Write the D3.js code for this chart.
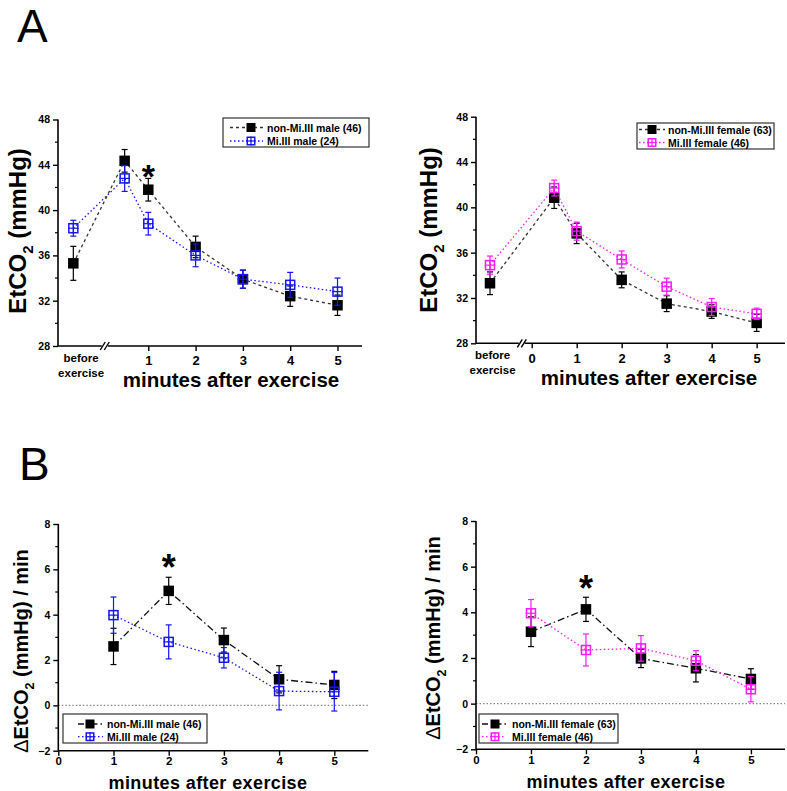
<!DOCTYPE html>
<html><head><meta charset="utf-8">
<script src="https://cdn.jsdelivr.net/npm/d3@7"></script>
<style>body{margin:0;background:#fff}svg{display:block}text{font-family:"Liberation Sans",Arial,sans-serif}</style>
</head><body>
<svg id="c" width="787" height="791"></svg>
<script>
// ---------- DATA ----------
const topX = ["before", 0.5, 1, 2, 3, 4, 5];
const topXTicks = [1, 2, 3, 4, 5];
const topXTicksRight = [0, 1, 2, 3, 4, 5];
const topYTicks = [28, 32, 36, 40, 44, 48];

const maleNonMiEt    = [35.3, 44.35, 41.8, 36.75, 33.9, 32.4, 31.6];
const maleNonMiEtErr = [1.5, 1.0, 1.0, 0.95, 0.8, 0.9, 0.9];
const maleMiEt       = [38.4, 42.8, 38.8, 36.0, 33.9, 33.4, 32.8];
const maleMiEtErr    = [0.7, 1.15, 1.0, 1.0, 0.8, 1.1, 1.2];

const femNonMiEt     = [33.3, 40.85, 37.7, 33.6, 31.5, 30.8, 29.8];
const femNonMiEtErr  = [1.0, 0.95, 0.9, 0.7, 0.7, 0.6, 0.75];
const femMiEt        = [34.9, 41.7, 37.9, 35.4, 33.0, 31.2, 30.6];
const femMiEtErr     = [0.8, 0.7, 0.8, 0.75, 0.75, 0.75, 0.5];

const botX = [1, 2, 3, 4, 5];
const botXTicks = [0, 1, 2, 3, 4, 5];
const botYTicks = [-2, 0, 2, 4, 6, 8];

const maleNonMiD     = [2.6, 5.05, 2.88, 1.15, 0.9];
const maleNonMiDErr  = [0.8, 0.6, 0.53, 0.6, 0.6];
const maleMiD        = [3.98, 2.8, 2.1, 0.63, 0.6];
const maleMiDErr     = [0.8, 0.75, 0.45, 0.83, 0.85];

const femNonMiD      = [3.15, 4.13, 1.98, 1.55, 1.08];
const femNonMiDErr   = [0.65, 0.53, 0.4, 0.6, 0.45];
const femMiD         = [3.96, 2.35, 2.42, 1.88, 0.63];
const femMiDErr      = [0.6, 0.7, 0.56, 0.44, 0.55];

const legMale = ["non-Mi.III male (46)", "Mi.III male (24)"];
const legFemale = ["non-Mi.III female (63)", "Mi.III female (46)"];
const xTitle = "minutes after exercise";
const beforeLabel = ["before", "exercise"];

// ---------- DRAW ----------
const svg = d3.select("#c");
const BLUE = "#1515f5", MAG = "#ff1aff", BLK = "#000";
const FONT = '"Liberation Sans",Arial,sans-serif';

svg.append("text").attr("x", 17).attr("y", 42).attr("font-size", 46).text("A");
svg.append("text").attr("x", 19).attr("y", 480).attr("font-size", 46).text("B");

function panel(cfg) {
  const g = svg.append("g");
  const x = d3.scaleLinear().domain(cfg.xDom).range(cfg.xRange);
  const y = d3.scaleLinear().domain(cfg.yDom).range(cfg.yRange);
  const x0 = cfg.xRange[0], x1 = cfg.xRange[1];
  const yb = y(cfg.yDom[0]);
  const xpos = v => v === "before" ? x(cfg.beforeX) : x(v);

  if (cfg.zeroLine) {
    g.append("line").attr("x1", x0).attr("x2", x1).attr("y1", y(0)).attr("y2", y(0))
      .attr("stroke", "#888").attr("stroke-width", 1.2).attr("stroke-dasharray", "1.5,2");
  }

  const yAxis = d3.axisLeft(y).tickValues(cfg.yTicks).tickSize(5).tickPadding(3).tickFormat(d3.format("d"));
  const ya = g.append("g").attr("transform", `translate(${x0},0)`).call(yAxis);
  const xAxis = d3.axisBottom(x).tickValues(cfg.xTicks).tickSize(5).tickPadding(cfg.xTickPad).tickFormat(d3.format("d"));
  const xa = g.append("g").attr("transform", `translate(0,${yb})`).call(xAxis);
  [ya, xa].forEach(a => {
    a.select(".domain").attr("stroke", "#000").attr("stroke-width", 1.6);
    a.selectAll(".tick line").attr("stroke", "#000").attr("stroke-width", 1.4);
  });
  ya.selectAll(".domain").attr("d", `M-0,${cfg.yRange[1]}V${cfg.yRange[0]}`);
  xa.selectAll(".domain").attr("d", `M${x0},0H${x1}`);
  ya.selectAll(".tick text").attr("font-family", FONT).attr("font-weight", "bold").attr("font-size", 10.5).attr("fill", "#000");
  xa.selectAll(".tick text").attr("font-family", FONT).attr("font-weight", "bold").attr("font-size", cfg.xTickSize).attr("fill", "#000");
  const minors = [];
  for (let i = 0; i < cfg.yTicks.length - 1; i++) minors.push((cfg.yTicks[i] + cfg.yTicks[i + 1]) / 2);
  g.selectAll(".minor").data(minors).enter().append("line")
    .attr("x1", x0 - 3).attr("x2", x0).attr("y1", d => y(d)).attr("y2", d => y(d))
    .attr("stroke", "#000").attr("stroke-width", 1.2);

  if (cfg.breakX !== undefined) {
    const bx = x(cfg.breakX);
    g.append("rect").attr("x", bx - 3).attr("y", yb - 2).attr("width", 6).attr("height", 4).attr("fill", "#fff");
    [-2, 2].forEach(o => g.append("line")
      .attr("x1", bx + o - 2.5).attr("y1", yb + 4).attr("x2", bx + o + 2.5).attr("y2", yb - 4)
      .attr("stroke", "#000").attr("stroke-width", 1.4));
    const bl = g.append("text").attr("text-anchor", "middle").attr("font-weight", "bold").attr("font-size", 11.5);
    beforeLabel.forEach((t, i) => bl.append("tspan").attr("x", x(cfg.beforeLabelX)).attr("y", yb + 16 + i * 15).text(t));
  }

  g.append("text").attr("x", cfg.xTitle[0]).attr("y", cfg.xTitle[1]).attr("text-anchor", "middle")
    .attr("font-weight", "bold").attr("font-size", cfg.xTitleSize).attr("letter-spacing", cfg.xTitleLS || 0).text(xTitle);
  const yt = g.append("text").attr("transform", `translate(${cfg.yTitle[0]},${cfg.yTitle[1]}) rotate(-90)`)
    .attr("text-anchor", "middle").attr("font-weight", "bold").attr("font-size", cfg.yTitleSize);
  if (cfg.delta) yt.append("tspan").attr("font-weight", "normal").text("Δ");
  yt.append("tspan").text("EtCO");
  yt.append("tspan").attr("font-size", cfg.yTitleSize * 0.62).attr("dy", cfg.yTitleSize * 0.28).text("2");
  yt.append("tspan").attr("dy", -cfg.yTitleSize * 0.28).text(cfg.delta ? " (mmHg) / min" : " (mmHg)");

  cfg.series.forEach(s => {
    const pts = cfg.xs.map((v, i) => ({ x: xpos(v), v: s.vals[i], e: s.errs[i] }));
    const line = d3.line().x(d => d.x).y(d => y(d.v));
    g.append("path").attr("d", line(pts)).attr("fill", "none").attr("stroke", s.lineColor)
      .attr("stroke-width", 1.3).attr("stroke-dasharray", s.dash);
    const eb = g.append("g").attr("stroke", s.color).attr("stroke-width", 1.2);
    pts.forEach(p => {
      eb.append("line").attr("x1", p.x).attr("x2", p.x).attr("y1", y(p.v + p.e)).attr("y2", y(p.v - p.e));
      [p.v + p.e, p.v - p.e].forEach(w => eb.append("line").attr("x1", p.x - 3).attr("x2", p.x + 3).attr("y1", y(w)).attr("y2", y(w)));
    });
    pts.forEach(p => marker(g, p.x, y(p.v), s));
  });

  if (cfg.star) {
    g.append("text").attr("x", x(cfg.star[0])).attr("y", cfg.star[1]).attr("text-anchor", "middle")
      .attr("font-weight", "bold").attr("font-size", cfg.starSize).text("*");
  }

  const L = cfg.legend;
  g.append("rect").attr("x", L.x).attr("y", L.y).attr("width", L.w).attr("height", L.h)
    .attr("fill", "#fff").attr("stroke", "#333").attr("stroke-width", 1.2);
  cfg.series.forEach((s, i) => {
    const ry = L.rows[i];
    g.append("line").attr("x1", L.lx[0]).attr("x2", L.lx[1]).attr("y1", ry).attr("y2", ry)
      .attr("stroke", s.lineColor).attr("stroke-width", 1.3).attr("stroke-dasharray", s.legDash || s.dash);
    marker(g, L.mx, ry, s, 9);
    g.append("text").attr("x", L.tx).attr("y", ry + 4).attr("font-weight", "bold").attr("font-size", 10.5).text(cfg.labels[i]);
  });
}

function marker(g, cx, cy, s, size) {
  const h = (size || 10.5) / 2;
  if (s.filled) {
    g.append("rect").attr("x", cx - h).attr("y", cy - h).attr("width", 2 * h).attr("height", 2 * h).attr("fill", "#000");
  } else {
    g.append("rect").attr("x", cx - h + 0.75).attr("y", cy - h + 0.75).attr("width", 2 * h - 1.5).attr("height", 2 * h - 1.5)
      .attr("fill", "none").attr("stroke", s.color).attr("stroke-width", 1.5);
    g.append("line").attr("x1", cx - h).attr("x2", cx + h).attr("y1", cy).attr("y2", cy).attr("stroke", s.color).attr("stroke-width", 1.2);
    g.append("line").attr("x1", cx).attr("x2", cx).attr("y1", cy - h).attr("y2", cy + h).attr("stroke", s.color).attr("stroke-width", 1.2);
  }
}

const dashTop = "3,3", dotDash = "1.5,2.5", dashDot = "7,3,1.5,3";

panel({
  xDom: [-0.909, 5.518], xRange: [58, 362], yDom: [28, 48], yRange: [346, 119.5],
  xs: topX, xTicks: topXTicks, yTicks: topYTicks, beforeX: -0.585, beforeLabelX: -0.42, breakX: 0.08,
  xTickSize: 13, xTickPad: 5,
  xTitle: [231, 387], xTitleSize: 20.5, yTitle: [26, 231], yTitleSize: 24, delta: false,
  star: [1, 188], starSize: 34,
  series: [
    { vals: maleNonMiEt, errs: maleNonMiEtErr, color: BLK, lineColor: "#333", dash: dashTop, filled: true },
    { vals: maleMiEt, errs: maleMiEtErr, color: BLUE, lineColor: BLUE, dash: dotDash, filled: false }
  ],
  labels: legMale,
  legend: { x: 223, y: 118, w: 146, h: 29, rows: [127.5, 141], lx: [230, 263], mx: 251, tx: 267 }
});

panel({
  xDom: [-1.238, 5.63], xRange: [476, 785], yDom: [28, 48], yRange: [343.3, 116.7],
  xs: topX, xTicks: topXTicksRight, yTicks: topYTicks, beforeX: -0.927, beforeLabelX: -0.87, breakX: -0.22,
  xTickSize: 13, xTickPad: 5,
  xTitle: [649, 385], xTitleSize: 20.5, yTitle: [437, 230], yTitleSize: 24, delta: false,
  series: [
    { vals: femNonMiEt, errs: femNonMiEtErr, color: BLK, lineColor: "#333", dash: dashTop, filled: true },
    { vals: femMiEt, errs: femMiEtErr, color: MAG, lineColor: MAG, dash: dotDash, filled: false }
  ],
  labels: legFemale,
  legend: { x: 637, y: 123, w: 137, h: 26, rows: [129.5, 142.5], lx: [639, 665], mx: 652, tx: 668 }
});

panel({
  xDom: [0, 5.616], xRange: [58.3, 368.3], yDom: [-2, 8], yRange: [750.7, 524],
  xs: botX, xTicks: botXTicks, yTicks: botYTicks,
  xTickSize: 11.5, xTickPad: 1.5,
  xTitle: [208, 788.5], xTitleSize: 18, xTitleLS: 0.4, yTitle: [28, 651], yTitleSize: 20, delta: true, zeroLine: true,
  star: [2, 580], starSize: 36,
  series: [
    { vals: maleNonMiD, errs: maleNonMiDErr, color: BLK, lineColor: "#111", dash: dashDot, legDash: "6,3,1.5,3", filled: true },
    { vals: maleMiD, errs: maleMiDErr, color: BLUE, lineColor: BLUE, dash: dotDash, filled: false }
  ],
  labels: legMale,
  legend: { x: 63, y: 714, w: 144, h: 29, rows: [724, 736.7], lx: [78, 103], mx: 90, tx: 107 }
});

panel({
  xDom: [0, 5.62], xRange: [476, 785], yDom: [-2, 8], yRange: [749.3, 521],
  xs: botX, xTicks: botXTicks, yTicks: botYTicks,
  xTickSize: 11.5, xTickPad: 1.5,
  xTitle: [626, 787.5], xTitleSize: 18, xTitleLS: 0.4, yTitle: [440, 638], yTitleSize: 20, delta: true, zeroLine: true,
  star: [2, 601], starSize: 36,
  series: [
    { vals: femNonMiD, errs: femNonMiDErr, color: BLK, lineColor: "#111", dash: dashDot, legDash: "6,3,1.5,3", filled: true },
    { vals: femMiD, errs: femMiDErr, color: MAG, lineColor: MAG, dash: dotDash, filled: false }
  ],
  labels: legFemale,
  legend: { x: 479, y: 714, w: 139, h: 29, rows: [724, 736.7], lx: [482, 506], mx: 495, tx: 512 }
});
</script>
</body></html>
